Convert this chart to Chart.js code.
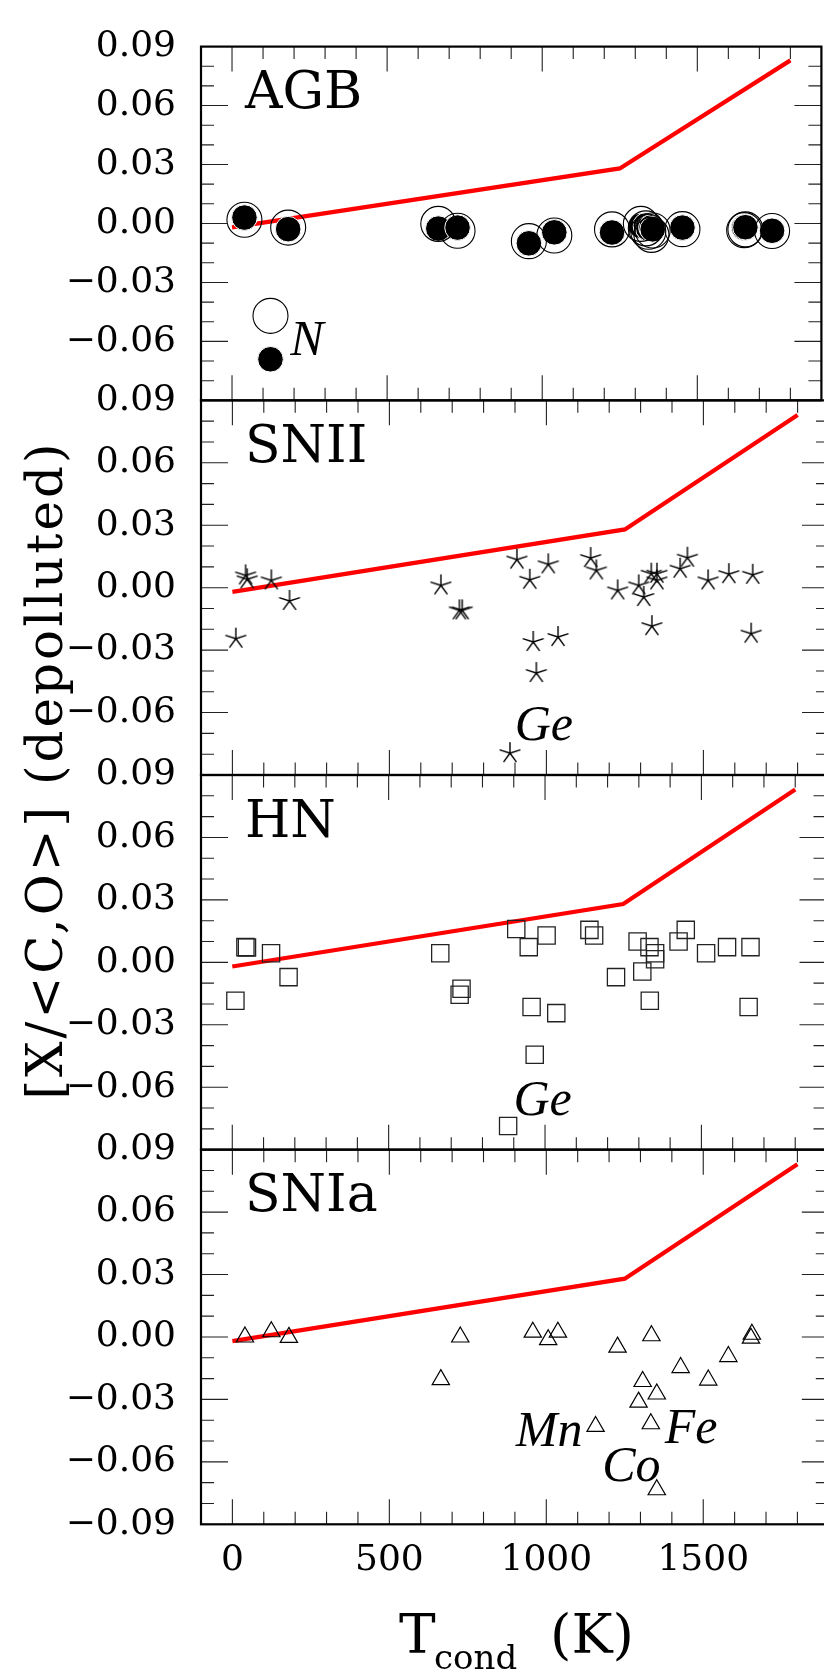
<!DOCTYPE html>
<html><head><meta charset="utf-8">
<script src="https://cdn.jsdelivr.net/npm/chart.js@4.4.1/dist/chart.umd.min.js"></script>
<style>
html,body{margin:0;padding:0;background:#fff;overflow:hidden;width:824px;height:1675px;}
#wrap{position:relative;width:824px;height:1675px;overflow:hidden;background:#fff;}
canvas{position:absolute;left:0;top:0;}
</style></head><body>
<div id="wrap">
<canvas id="c1" width="840" height="1675"></canvas>
<canvas id="c2" width="840" height="1675"></canvas>
<canvas id="c3" width="840" height="1675"></canvas>
<canvas id="c4" width="840" height="1675"></canvas>
</div>
<script>
// ---------------- DATA ----------------
const xTickValues = [0, 500, 1000, 1500];
const xTickLabels = ['0', '500', '1000', '1500'];
const yTickValues = [0.09, 0.06, 0.03, 0.00, -0.03, -0.06, -0.09];
const yTickLabels = ['0.09', '0.06', '0.03', '0.00', '\u22120.03', '\u22120.06', '\u22120.09'];

// red trend line (same in every panel)
const trendT = [0, 1250, 1800];
const trendV = [-0.002, 0.028, 0.083];

// AGB panel: open and filled circles
const agbT      = [40, 124, 181, 665, 727, 957, 1039, 1225, 1318, 1334, 1342, 1352, 1356, 1452, 1651, 1655, 1741];
const agbOpen   = [0.0019, -0.0470, -0.0021, -0.0002, -0.0037, -0.0090, -0.0061, -0.0030, -0.0002, -0.0025, -0.0042, -0.0058, -0.0036, -0.0029, -0.0034, -0.0030, -0.0038];
const agbFilled = [0.0030, -0.0691, -0.0029, -0.0026, -0.0021, -0.0101, -0.0045, -0.0046, -0.0012, -0.0010, -0.0025, -0.0020, -0.0030, -0.0021, -0.0021, -0.0019, -0.0037];

// SNII panel: stars
const sniiT = [11, 42, 47, 124, 182, 664, 723, 732, 884, 906, 947, 958, 968, 1006, 1037, 1141, 1159, 1227, 1294, 1310, 1334, 1336, 1352, 1352, 1426, 1449, 1515, 1581, 1652, 1657];
const sniiV = [-0.0245, 0.0059, 0.0040, 0.0035, -0.0064, 0.0011, -0.0109, -0.0109, -0.0795, 0.0135, 0.0038, -0.0261, -0.0410, 0.0112, -0.0237, 0.0142, 0.0083, -0.0013, 0.0011, -0.0045, 0.0067, -0.0185, 0.0067, 0.0035, 0.0091, 0.0144, 0.0035, 0.0065, -0.0221, 0.0062];

// HN panel: squares
const hnT = [10, 42, 47, 124, 180, 665, 727, 733, 882, 908, 948, 957, 967, 1005, 1036, 1142, 1157, 1227, 1296, 1311, 1334, 1335, 1352, 1352, 1427, 1450, 1515, 1582, 1651, 1657];
const hnV = [-0.0185, 0.0073, 0.0071, 0.0044, -0.0071, 0.0044, -0.0156, -0.0127, -0.0786, 0.0160, 0.0073, -0.0215, -0.0444, 0.0129, -0.0244, 0.0156, 0.0129, -0.0071, 0.0100, -0.0044, 0.0073, -0.0185, 0.0044, 0.0015, 0.0100, 0.0156, 0.0044, 0.0073, -0.0215, 0.0073];

// SNIa panel: triangles
const sniaT = [40, 124, 180, 664, 726, 957, 1006, 1037, 1157, 1227, 1294, 1307, 1333, 1335, 1352, 1352, 1428, 1516, 1580, 1652, 1655];
const sniaV = [0.0000, 0.0025, -0.0002, -0.0205, 0.0000, 0.0023, -0.0013, 0.0023, -0.0430, -0.0049, -0.0313, -0.0214, -0.0417, 0.0006, -0.0274, -0.0734, -0.0147, -0.0207, -0.0094, -0.0006, 0.0013];

const panelNames = ['AGB', 'SNII', 'HN', 'SNIa'];

// ---------------- HELPERS ----------------
const pts = (xs, ys) => xs.map((t, i) => ({x: t, y: ys[i]}));

const starImg = (() => {
  const c = document.createElement('canvas'); c.width = 26; c.height = 26;
  const g = c.getContext('2d'); g.strokeStyle = '#000'; g.lineWidth = 1.4;
  g.beginPath();
  for (let k = 0; k < 5; k++) {
    const a = -Math.PI / 2 + k * 2 * Math.PI / 5;
    g.moveTo(13, 13); g.lineTo(13 + 11 * Math.cos(a), 13 + 11 * Math.sin(a));
  }
  g.stroke();
  return c;
})();

const trendDataset = {
  data: pts(trendT, trendV), showLine: true, borderColor: '#ff0000', borderWidth: 4.2,
  pointRadius: 0, fill: false, tension: 0
};

const W = 840, H = 1675;
const PLOT_LEFT = 201, PLOT_RIGHT = 833.4;
const PANEL_H = 374.65;
const panelTops = [25.7, 400.35, 775.0, 1149.65];
const XAXIS_H = H - (panelTops[3] + PANEL_H);

const framePlugin = {
  id: 'frame',
  afterDraw(chart) {
    const {ctx, chartArea: a, scales: {x, y}} = chart;
    ctx.save();
    ctx.strokeStyle = '#222'; ctx.lineWidth = 1.1;
    ctx.beginPath();
    for (let i = -8; i <= 8; i++) {
      const py = y.getPixelForValue(i / 100);
      const len = (i % 3 === 0) ? 27 : 13;
      ctx.moveTo(a.left, py); ctx.lineTo(a.left + len, py);
      ctx.moveTo(a.right, py); ctx.lineTo(a.right - len, py);
    }
    for (let t = 0; t <= 1800; t += 100) {
      const px = x.getPixelForValue(t);
      const len = (t % 500 === 0) ? 25 : 12.5;
      ctx.moveTo(px, a.top); ctx.lineTo(px, a.top + len);
      ctx.moveTo(px, a.bottom); ctx.lineTo(px, a.bottom - len);
    }
    ctx.stroke();
    ctx.strokeStyle = '#000'; ctx.lineWidth = 2.2;
    ctx.strokeRect(a.left, a.top, a.right - a.left, a.bottom - a.top);
    ctx.restore();
  }
};

const textPlugin = {
  id: 'panelText',
  afterDatasetsDraw(chart, args, o) {
    const {ctx, chartArea: a, scales: {x, y}} = chart;
    ctx.save();
    ctx.fillStyle = '#000'; ctx.textAlign = 'left'; ctx.textBaseline = 'alphabetic';
    ctx.font = '52px "DejaVu Serif"';
    ctx.fillText(o.name, a.left + 44, a.top + 61.6);
    ctx.font = 'italic 50px "Liberation Serif"';
    for (const l of (o.labels || [])) {
      ctx.fillText(l.text, x.getPixelForValue(l.t), y.getPixelForValue(l.v));
    }
    ctx.restore();
  }
};

const titlePlugin = {
  id: 'titles',
  afterDraw(chart) {
    const {ctx} = chart;
    ctx.save();
    ctx.fillStyle = '#000';
    // y title
    ctx.translate(62, 770);
    ctx.rotate(-Math.PI / 2);
    ctx.font = '50px "DejaVu Serif"';
    ctx.letterSpacing = '3px';
    ctx.textAlign = 'center'; ctx.textBaseline = 'alphabetic';
    ctx.fillText('[X/<C,O>] (depolluted)', 0, 0);
    ctx.restore();
    // x title
    ctx.save();
    ctx.fillStyle = '#000'; ctx.textAlign = 'left'; ctx.textBaseline = 'alphabetic';
    ctx.font = '55px "DejaVu Serif"';
    ctx.fillText('T', 399, 1653);
    ctx.font = '34px "DejaVu Serif"';
    ctx.fillText('cond', 434, 1669);
    ctx.font = '55px "DejaVu Serif"';
    ctx.fillText('(K)', 550, 1653);
    ctx.restore();
  }
};

function yLabel(v, showBottom) {
  const k = yTickValues.findIndex(t => Math.abs(t - v) < 1e-9);
  if (k < 0) return '';
  if (!showBottom && Math.abs(v + 0.09) < 1e-9) return '';
  return yTickLabels[k];
}

function makeChart(id, idx, datasets, labels, isBottom) {
  const top = panelTops[idx];
  const bottomPad = isBottom ? 0 : H - (top + PANEL_H);
  const plugins = [framePlugin, textPlugin];
  if (isBottom) plugins.push(titlePlugin);
  return new Chart(document.getElementById(id), {
    type: 'scatter',
    data: {datasets: datasets.concat([Object.assign({}, trendDataset)])},
    plugins,
    options: {
      responsive: false, animation: false, devicePixelRatio: 1, events: [],
      layout: {padding: {top: top, bottom: bottomPad, left: 0, right: W - PLOT_RIGHT}},
      plugins: {legend: {display: false}, tooltip: {enabled: false},
        panelText: {name: panelNames[idx], labels}},
      scales: {
        x: {
          type: 'linear', min: -100, max: 1900, position: 'bottom',
          grid: {display: false, drawTicks: false}, border: {display: false},
          afterBuildTicks: s => { s.ticks = xTickValues.map(v => ({value: v})); },
          afterFit: s => { s.height = isBottom ? XAXIS_H : 0; },
          ticks: {
            display: isBottom, autoSkip: false, maxRotation: 0, padding: 15, color: '#000',
            font: {family: 'DejaVu Serif', size: 36},
            callback: v => { const k = xTickValues.indexOf(v); return k < 0 ? '' : xTickLabels[k]; }
          }
        },
        y: {
          type: 'linear', min: -0.09, max: 0.09, position: 'left',
          grid: {display: false, drawTicks: false}, border: {display: false},
          afterBuildTicks: s => { s.ticks = yTickValues.map(v => ({value: v})); },
          afterFit: s => { s.width = PLOT_LEFT; },
          ticks: {
            autoSkip: false, padding: 25, color: '#000',
            font: {family: 'DejaVu Serif', size: 36},
            callback: v => yLabel(v, isBottom)
          }
        }
      }
    }
  });
}

// AGB
makeChart('c1', 0, [
  {data: pts(agbT, agbOpen), pointStyle: 'circle', pointRadius: 17.5, backgroundColor: 'rgba(0,0,0,0)', borderColor: '#000', borderWidth: 1.1},
  {data: pts(agbT, agbFilled), pointStyle: 'circle', pointRadius: 12.8, backgroundColor: '#000', borderColor: '#fff', borderWidth: 1}
], [{text: 'N', t: 188, v: -0.0667}], false);

// SNII
makeChart('c2', 1, [
  {data: pts(sniiT, sniiV), pointStyle: starImg, pointRadius: 10}
], [{text: 'Ge', t: 899, v: -0.0734}], false);

// HN
makeChart('c3', 2, [
  {data: pts(hnT, hnV), pointStyle: 'rect', pointRadius: 12.2, backgroundColor: 'rgba(0,0,0,0)', borderColor: '#222', borderWidth: 1.3}
], [{text: 'Ge', t: 899, v: -0.0733}], false);

// SNIa
makeChart('c4', 3, [
  {data: pts(sniaT, sniaV), pointStyle: 'triangle', pointRadius: 10, backgroundColor: 'rgba(0,0,0,0)', borderColor: '#000', borderWidth: 1.2}
], [{text: 'Mn', t: 903, v: -0.0526}, {text: 'Fe', t: 1377, v: -0.0510}, {text: 'Co', t: 1178, v: -0.0694}], true);
</script>
</body></html>
